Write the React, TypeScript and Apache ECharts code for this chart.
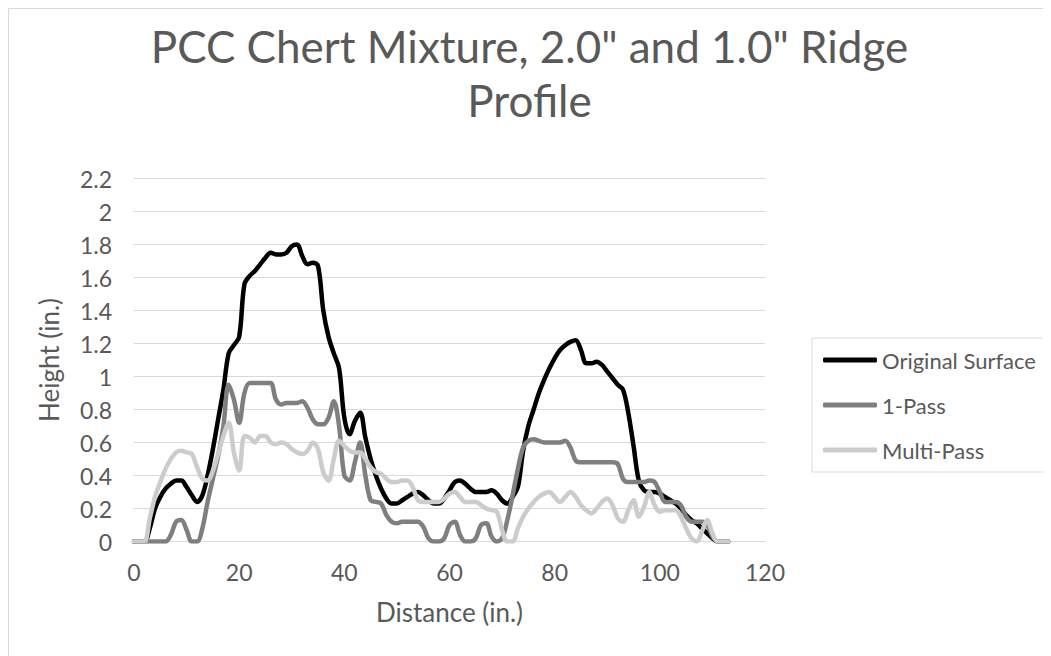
import React, { useEffect, useRef } from 'react';
import * as echarts from 'echarts';

const distance = [
  0, 1, 2, 3, 4, 5, 6, 7, 8, 9, 10, 11, 12, 13, 14, 15, 16, 17, 18, 19,
  20, 21, 22, 23, 24, 25, 26, 27, 28, 29, 30, 31, 32, 33, 34, 35, 36, 37, 38, 39,
  40, 41, 42, 43, 44, 45, 46, 47, 48, 49, 50, 51, 52, 53, 54, 55, 56, 57, 58, 59,
  60, 61, 62, 63, 64, 65, 66, 67, 68, 69, 70, 71, 72, 73, 74, 75, 76, 77, 78, 79,
  80, 81, 82, 83, 84, 85, 86, 87, 88, 89, 90, 91, 92, 93, 94, 95, 96, 97, 98, 99,
  100, 101, 102, 103, 104, 105, 106, 107, 108, 109, 110, 111, 112, 113,
];

const originalSurface = [
  0, 0, 0, 0.08, 0.2, 0.27, 0.32, 0.35, 0.37, 0.37, 0.33, 0.28, 0.24, 0.28, 0.4, 0.56, 0.74, 0.92, 1.14, 1.19,
  1.24, 1.56, 1.61, 1.64, 1.68, 1.72, 1.75, 1.74, 1.74, 1.75, 1.79, 1.8, 1.73, 1.68, 1.69, 1.67, 1.4, 1.24, 1.14, 1.05,
  0.75, 0.65, 0.73, 0.78, 0.63, 0.5, 0.4, 0.32, 0.26, 0.23, 0.23, 0.25, 0.27, 0.29, 0.3, 0.28, 0.25, 0.23, 0.23, 0.26,
  0.31, 0.36, 0.37, 0.35, 0.32, 0.3, 0.3, 0.3, 0.31, 0.29, 0.25, 0.23, 0.27, 0.33, 0.55, 0.7, 0.8, 0.9, 0.98, 1.05,
  1.11, 1.16, 1.19, 1.21, 1.22, 1.16, 1.08, 1.08, 1.09, 1.07, 1.03, 0.99, 0.95, 0.92, 0.78, 0.58, 0.37, 0.31, 0.3, 0.3,
  0.29, 0.27, 0.25, 0.23, 0.2, 0.16, 0.13, 0.11, 0.08, 0.05, 0.02, 0, 0, 0,
];

const onePass = [
  0, 0, 0, 0, 0, 0, 0, 0.04, 0.12, 0.13, 0.07, 0, 0, 0.08, 0.24, 0.38, 0.52, 0.7, 0.95, 0.86,
  0.72, 0.9, 0.96, 0.96, 0.96, 0.96, 0.96, 0.86, 0.83, 0.84, 0.84, 0.84, 0.85, 0.81, 0.74, 0.71, 0.71, 0.75, 0.85, 0.7,
  0.4, 0.37, 0.48, 0.6, 0.4, 0.25, 0.24, 0.23, 0.16, 0.12, 0.11, 0.12, 0.12, 0.12, 0.12, 0.09, 0.02, 0, 0, 0.02,
  0.1, 0.12, 0.04, 0, 0, 0.02, 0.1, 0.11, 0.03, 0, 0.02, 0.13, 0.28, 0.44, 0.57, 0.61, 0.62, 0.61, 0.6, 0.6,
  0.6, 0.6, 0.61, 0.57, 0.49, 0.48, 0.48, 0.48, 0.48, 0.48, 0.48, 0.48, 0.47, 0.38, 0.36, 0.36, 0.36, 0.36, 0.37, 0.36,
  0.3, 0.24, 0.24, 0.24, 0.22, 0.15, 0.12, 0.12, 0.12, 0.1, 0.03, 0, 0, 0,
];

const multiPass = [
  0, 0, 0, 0.14, 0.27, 0.36, 0.44, 0.5, 0.54, 0.55, 0.54, 0.53, 0.45, 0.38, 0.37, 0.43, 0.53, 0.64, 0.72, 0.54,
  0.43, 0.64, 0.63, 0.6, 0.64, 0.64, 0.6, 0.59, 0.6, 0.59, 0.56, 0.54, 0.53, 0.55, 0.6, 0.56, 0.42, 0.37, 0.5, 0.61,
  0.58, 0.55, 0.54, 0.54, 0.5, 0.45, 0.42, 0.41, 0.38, 0.36, 0.36, 0.37, 0.37, 0.33, 0.25, 0.24, 0.24, 0.24, 0.24, 0.26,
  0.29, 0.3, 0.27, 0.24, 0.24, 0.24, 0.22, 0.2, 0.19, 0.18, 0.07, 0, 0, 0.08, 0.15, 0.2, 0.24, 0.27, 0.29, 0.3,
  0.27, 0.24, 0.27, 0.3, 0.27, 0.22, 0.19, 0.17, 0.2, 0.24, 0.26, 0.22, 0.14, 0.12, 0.19, 0.25, 0.15, 0.21, 0.3, 0.22,
  0.18, 0.19, 0.19, 0.19, 0.15, 0.08, 0.02, 0, 0.06, 0.13, 0.05, 0, 0, 0,
];

const seriesNames = ['Original Surface', '1-Pass', 'Multi-Pass'];
const seriesColors = ['#000000', '#7f7f7f', '#cccccc'];
const titleText = 'PCC Chert Mixture, 2.0" and 1.0" Ridge\nProfile';
const xAxisName = 'Distance (in.)';
const yAxisName = 'Height (in.)';

const FONT = 'Lato, "Noto Sans", sans-serif';
const TEXT = '#595959';

export default function App() {
  const ref = useRef<HTMLDivElement>(null);
  useEffect(() => {
    const chart = echarts.init(ref.current!, null, { renderer: 'svg' });
    const pair = (ys: number[]) => distance.map((x, i) => [x, ys[i]]);
    const allSeries = [originalSurface, onePass, multiPass];
    chart.setOption({
      animation: false,
      backgroundColor: '#ffffff',
      textStyle: { fontFamily: FONT },
      graphic: [
        {
          type: 'rect',
          silent: true,
          z: -10,
          shape: { x: 0.5, y: 0.5, width: 1100, height: 700 },
          style: { fill: 'none', stroke: '#d9d9d9', lineWidth: 1 },
        },
      ],
      title: {
        text: titleText,
        left: 'center',
        top: 6,
        textStyle: {
          fontFamily: FONT,
          fontSize: 44,
          fontWeight: 'normal',
          color: TEXT,
          lineHeight: 54,
        },
      },
      legend: {
        orient: 'vertical',
        left: 804,
        top: 330,
        padding: [11, 12, 11, 11],
        itemGap: 23,
        itemWidth: 54,
        itemHeight: 5,
        icon: 'roundRect',
        borderColor: '#d9d9d9',
        borderWidth: 1,
        textStyle: { fontFamily: FONT, fontSize: 22, color: TEXT },
        data: seriesNames,
      },
      grid: { left: 126, right: 286, top: 170.5, bottom: 114.5, containLabel: false },
      xAxis: {
        type: 'value',
        min: 0,
        max: 120,
        interval: 20,
        name: xAxisName,
        nameLocation: 'middle',
        nameGap: 57,
        nameTextStyle: { fontFamily: FONT, fontSize: 26, color: TEXT },
        axisLine: { show: true, lineStyle: { color: '#d9d9d9', width: 1 } },
        axisTick: { show: false },
        splitLine: { show: false },
        axisLabel: { fontFamily: FONT, fontSize: 23, color: TEXT, margin: 19 },
      },
      yAxis: {
        type: 'value',
        min: 0,
        max: 2.2,
        interval: 0.2,
        name: yAxisName,
        nameLocation: 'middle',
        nameGap: 72,
        nameTextStyle: { fontFamily: FONT, fontSize: 26, color: TEXT },
        axisLine: { show: false },
        axisTick: { show: false },
        splitLine: { show: true, lineStyle: { color: '#d9d9d9', width: 1 } },
        axisLabel: { fontFamily: FONT, fontSize: 23, color: TEXT, margin: 22 },
      },
      series: seriesNames.map((name, i) => ({
        name,
        type: 'line',
        data: pair(allSeries[i]),
        smooth: 0.35,
        showSymbol: false,
        symbol: 'none',
        color: seriesColors[i],
        lineStyle: { color: seriesColors[i], width: 4.5, cap: 'round', join: 'round' },
      })),
    });
    return () => chart.dispose();
  }, []);
  return <div ref={ref} style={{ width: 1043, height: 648 }} />;
}
